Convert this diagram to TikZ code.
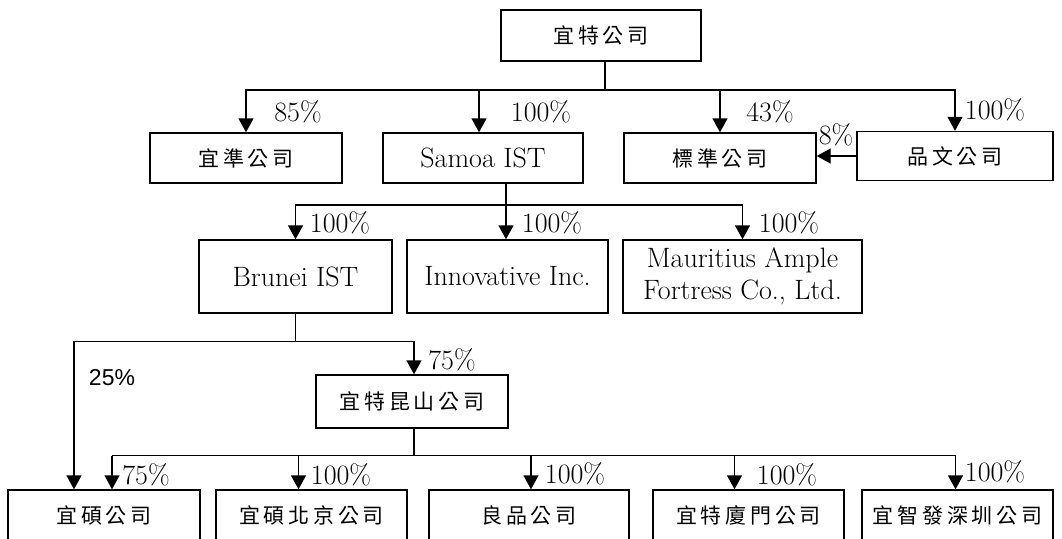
\documentclass[tikz,border=0pt]{standalone}
\usepackage{fontspec}
\usepackage{tikz}
\usetikzlibrary{positioning,arrows.meta,calc}

\newfontfamily\cjk[LetterSpace=18]{Noto Sans CJK TC}
\newfontfamily\arialfont{Liberation Sans}
\newcommand\zh[1]{{\cjk\fontsize{21}{25}\selectfont #1}}

\begin{document}
\begin{tikzpicture}[x=1pt,y=-1pt,line width=1.4pt,
    box/.style={draw,inner sep=0pt,minimum width=192pt,minimum height=50pt,
        align=center,font=\fontsize{28}{32}\selectfont},
    pct/.style={inner sep=0pt,font=\fontsize{28}{32}\selectfont},
    arr/.style={-{Triangle[length=14pt,width=15pt]}}]
    \useasboundingbox (0,0) rectangle (1062,538);

    % parent and first level
    \node[box,minimum width=200pt,minimum height=51pt] (yt) at (601,35.5) {\zh{宜特公司}};
    \node[box] (yz) at (246,158) {\zh{宜準公司}};
    \node[box,minimum width=200pt] (samoa) at (483,158) {Samoa IST};
    \node[box] (bz) at (720,158) {\zh{標準公司}};
    \node[box,minimum width=196pt,minimum height=49pt] (pw) at (955,156) {\zh{品文公司}};

    % second level
    \node[box,minimum width=193pt,minimum height=73pt] (brunei) at (295.5,276.5) {Brunei IST};
    \node[box,minimum width=201pt,minimum height=73pt] (innov) at (507.5,276.5) {Innovative Inc.};
    \node[box,minimum width=239pt,minimum height=73pt] (maur) at (742.5,276.5)
        {Mauritius Ample\\Fortress Co., Ltd.};

    % third and fourth level
    \node[box,minimum height=53pt] (ks) at (412,401.5) {\zh{宜特昆山公司}};
    \node[box] (ys) at (104,515) {\zh{宜碩公司}};
    \node[box,minimum width=191pt] (ysbj) at (311.5,515) {\zh{宜碩北京公司}};
    \node[box,minimum width=200pt] (lp) at (529,515) {\zh{良品公司}};
    \node[box,minimum width=191pt] (xm) at (748.5,515) {\zh{宜特廈門公司}};
    \node[box,minimum width=191pt] (sz) at (957.5,515) {\zh{宜智發深圳公司}};

    % buses
    \coordinate (b1) at (605,90);
    \coordinate (b2) at (506,205);
    \coordinate (b3) at ($(brunei.south)+(0,28)$);
    \coordinate (b4) at ($(ks.south)+(2,27)$);
    \coordinate (a0) at ([xshift=-30pt]ys.north);
    \coordinate (a1) at ([xshift=8pt]ys.north);
    \coordinate (a2) at ([xshift=-13pt]ysbj.north);
    \coordinate (a3) at ([xshift=2pt]lp.north);
    \coordinate (a4) at ([xshift=-14pt]xm.north);
    \coordinate (a5) at ([xshift=-2pt]sz.north);

    \draw (b1 |- yt.south) -- (b1);
    \draw[arr] (b1) -| (yz.north);
    \draw[arr] (b1) -| ([xshift=-4pt]samoa.north);
    \draw[arr] (b1) -| (bz.north);
    \draw[arr] (b1) -| (pw.north);
    \draw[arr] (pw.west) -- (pw.west -| bz.east);

    \draw (b2 |- samoa.south) -- (b2);
    \draw[arr] (b2) -| (brunei.north);
    \draw[arr] (b2) -- (b2 |- innov.north);
    \draw[arr] (b2) -| (maur.north);

    \draw (brunei.south) -- (b3);
    \draw[arr] (b3) -| (a0);
    \draw[arr] (b3) -| ([xshift=2pt]ks.north);

    \draw (b4 |- ks.south) -- (b4);
    \draw (a1 |- b4) -- (a5 |- b4);
    \draw[arr] (a1 |- b4) -- (a1);
    \draw[arr] (a2 |- b4) -- (a2);
    \draw[arr] (a3 |- b4) -- (a3);
    \draw[arr] (a4 |- b4) -- (a4);
    \draw[arr] (a5 |- b4) -- (a5);

    % shares
    \node[pct] (pyz) at (298,112) {85\%};
    \node[pct] (psamoa) at (541,112) {100\%};
    \node[pct] (pbz) at (770,112) {43\%};
    \node[pct] (ppwbz) at (836,135) {8\%};
    \node[pct] (ppw) at (995,110) {100\%};
    \node[pct] (pbrunei) at (340,223) {100\%};
    \node[pct] (pinnov) at (552,223) {100\%};
    \node[pct] (pmaur) at (789,223) {100\%};
    \node[pct] (pks) at (452,360) {75\%};
    \node[pct,font=\arialfont\fontsize{23}{28}\selectfont] (pys2) at (112,378) {25\%};
    \node[pct] (pys) at (146,475) {75\%};
    \node[pct] (pysbj) at (341,475) {100\%};
    \node[pct] (plp) at (575,474) {100\%};
    \node[pct] (pxm) at (787,475) {100\%};
    \node[pct] (psz) at (995,472) {100\%};
\end{tikzpicture}
\end{document}
